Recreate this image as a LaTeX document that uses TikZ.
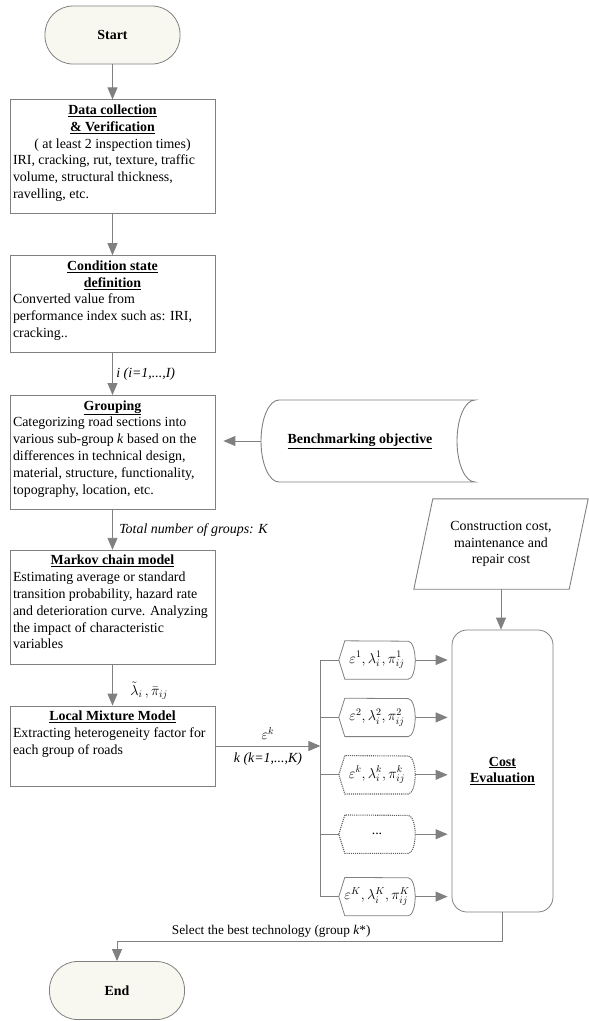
\documentclass[tikz,border=0pt]{standalone}
\usepackage{fontspec}
\setmainfont{Liberation Serif}
\usetikzlibrary{arrows.meta,positioning}

\definecolor{linegray}{HTML}{808080}
\definecolor{termfill}{HTML}{F9F8F0}
\newcommand{\fs}{\fontsize{13.9pt}{16.8pt}\selectfont}
\newcommand{\ttl}[1]{\makebox[\linewidth]{\textbf{\underline{#1}}}}
\newcommand{\ctr}[1]{\makebox[\linewidth]{#1}}
\newcommand{\boxtxt}[2]{\parbox[c][#1][t]{199pt}{\raggedright\strut#2}}

\begin{document}
\begin{tikzpicture}[x=1pt,y=1pt,font=\fs, node distance=41pt,
 term/.style={draw=linegray,line width=0.8pt,fill=termfill,rounded corners=28pt,minimum width=135pt,minimum height=58pt,font=\fs\bfseries},
 proc/.style={draw=linegray,line width=0.8pt,inner sep=3pt},
 hexbox/.style={minimum width=76pt,minimum height=38pt,inner sep=0pt},
 hexline/.style={draw=linegray,line width=0.8pt},
 hexdark/.style={draw=linegray!75!black,line width=1.1pt,densely dotted},
 conn/.style={draw=linegray,line width=0.9pt},
 arr/.style={conn,-{Triangle[length=12pt,width=10pt]}},
 lbl/.style={font=\fs\itshape}]
\useasboundingbox (0,0) rectangle (589,-1021);

% main column
\node[term] (start) at (112.5,-35) {Start};
\node[proc,below=35pt of start] (data) {\boxtxt{108pt}{\ttl{Data collection}\\\ttl{\& Verification}\\\ctr{( at least 2 inspection times)}\\IRI, cracking, rut, texture, traffic\\volume, structural thickness,\\ravelling, etc.}};
\node[proc,below=of data] (cond) {\boxtxt{91pt}{\ttl{Condition state}\\\ttl{definition}\\Converted value from\\performance index such as: IRI,\\cracking..}};
\node[proc,below=42pt of cond] (group) {\boxtxt{108pt}{\ttl{Grouping}\\Categorizing road sections into\\various sub-group \textit{k} based on the\\differences in technical design,\\material, structure, functionality,\\topography, location, etc.}};
\node[proc,below=40pt of group] (markov) {\boxtxt{108pt}{\ttl{Markov chain model}\\Estimating average or standard\\transition probability, hazard rate\\\mbox{and deterioration curve. Analyzing}\\the impact of characteristic\\variables}};
\node[proc,below=of markov] (lmm) {\boxtxt{74pt}{\ttl{Local Mixture Model}\\Extracting heterogeneity factor for\\each group of roads}};
\node[term] (end) at (117,-990.5) {End};

\foreach \a/\b in {start/data,data/cond}
 \draw[arr] (\a.south) -- (\b.north);
\draw[arr] (cond.south) -- node[right,lbl]{i (i=1,...,I)} (group.north);
\draw[arr] (group.south) -- node[right,lbl,xshift=3pt]{Total number of groups: K} (markov.north);
\draw[arr] (markov.south) -- node[right,xshift=14pt,yshift=-6pt]{$\tilde{\lambda}_{i}\,,\bar{\pi}_{ij}$} (lmm.north);

% benchmarking objective
\node[font=\fs\bfseries] (bench) at (360,-441) {\underline{Benchmarking objective}};
\coordinate (benchL) at (261,-441);
\draw[conn] (279,-400) -- (475,-400) arc[start angle=90,end angle=270,x radius=18pt,y radius=41pt] -- (279,-482) arc[start angle=270,end angle=90,x radius=18pt,y radius=41pt];
\draw[arr,shorten >=8pt] (benchL) -- (benchL -| group.east);

% costs
\node[align=center,minimum width=155pt,minimum height=90pt] (costin) at (501,-544) {Construction cost,\\maintenance and\\repair cost};
\draw[conn] ([xshift=-9.5pt]costin.south west) -- ([xshift=-9.5pt]costin.south east) -- ([xshift=9.5pt]costin.north east) -- ([xshift=9.5pt]costin.north west) -- cycle;
\node[draw=linegray,line width=0.8pt,rounded corners=15pt,minimum width=101pt,minimum height=282pt,align=center,font=\fs\bfseries] (cost) at (502.5,-771) {\underline{Cost}\\\underline{Evaluation}};
\draw[arr] (costin.south) -- (costin.south |- cost.north);

% groups k
\node[hexbox] (e1) at (377,-660) {$\varepsilon^{1},\lambda_{i}^{1},\pi_{ij}^{1}$};
\node[hexbox,below=19pt of e1] (e2) {$\varepsilon^{2},\lambda_{i}^{2},\pi_{ij}^{2}$};
\node[hexbox,below=19pt of e2] (ek) {$\varepsilon^{k},\lambda_{i}^{k},\pi_{ij}^{k}$};
\node[hexbox,below=21pt of ek] (edots) {...};
\node[hexbox,below=24pt of edots] (eK) {$\varepsilon^{K},\lambda_{i}^{K},\pi_{ij}^{K}$};

\path (lmm.east) ++(105,0) coordinate (jn);
\draw[arr] (lmm.east) -- node[above=3pt]{$\varepsilon^{k}$} node[below=3pt,lbl]{k (k=1,...,K)} (jn);
\draw[conn] (jn |- e1) -- (jn |- eK);
\foreach \n/\s in {e1/hexline,e2/hexline,ek/hexdark,edots/hexdark,eK/hexline} {
 \draw[conn] (jn |- \n) -- (\n.west);
 \draw[\s] ([xshift=6pt]\n.north west) -- (\n.west) -- ([xshift=6pt]\n.south west) -- ([xshift=-7pt]\n.south east) arc[start angle=-90,end angle=90,x radius=7pt,y radius=19pt] -- cycle;
 \draw[arr,shorten >=4pt] (\n.east) -- (\n.east -| cost.west);
}

% selection
\path (cost.south) ++(0,-29) coordinate (turn);
\draw[conn] (cost.south) -- (turn);
\draw[arr] (turn) -- node[above,pos=0.6,font=\fontsize{13.3pt}{15pt}\selectfont]{Select the best technology (group \textit{k}*)} (turn -| end) -- (end.north);
\end{tikzpicture}
\end{document}
